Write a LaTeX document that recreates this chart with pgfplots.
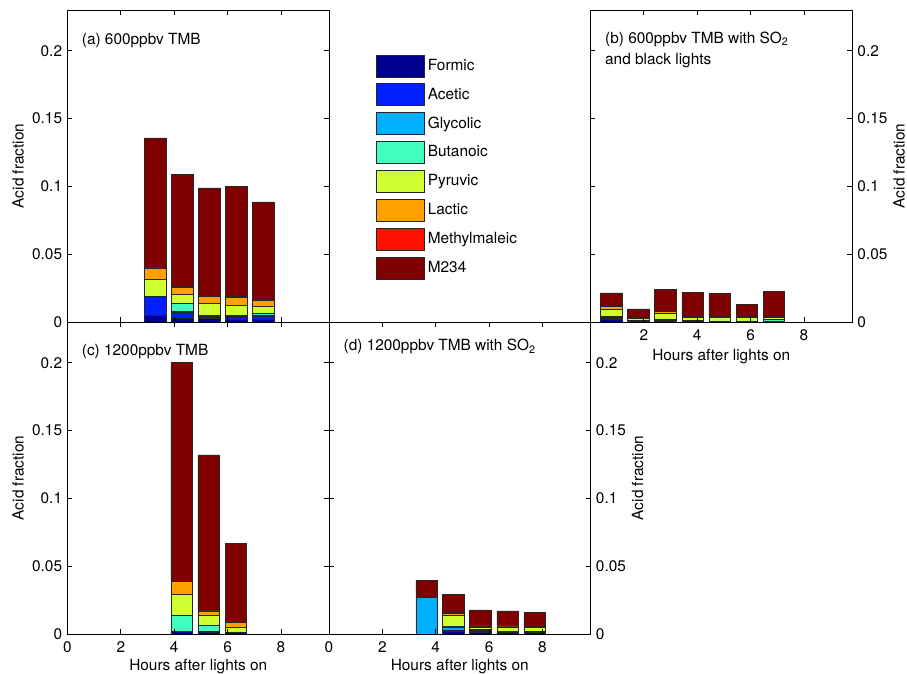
\documentclass[border=0pt]{standalone}
\usepackage{fontspec}
\setmainfont{TeX Gyre Heros}
\usepackage{pgfplots}
\usepackage{pgfplotstable}
\pgfplotsset{compat=1.18}

% jet-style colours for the eight acids
\definecolor{cFormic}{rgb}{0,0,0.5625}
\definecolor{cAcetic}{rgb}{0,0.125,1}
\definecolor{cGlycolic}{rgb}{0,0.6875,1}
\definecolor{cButanoic}{rgb}{0.25,1,0.75}
\definecolor{cPyruvic}{rgb}{0.8125,1,0.1875}
\definecolor{cLactic}{rgb}{1,0.625,0}
\definecolor{cMethyl}{rgb}{1,0.0625,0}
\definecolor{cMtwo}{rgb}{0.5,0,0}

% acid fractions per sample (stack increments)
% x = hours after lights on
\pgfplotstableread{
x    F      A      G      B      P      L      Me     M
3.29 0.0049 0.0138 0      0      0.0125 0.0083 0.0004 0.0958
4.30 0.0030 0.0039 0.0012 0.0057 0.0066 0.0054 0.0003 0.0829
5.31 0.0025 0.0008 0.0011 0.0003 0.0088 0.0052 0.0002 0.0799
6.32 0.0020 0.0017 0.0007 0.0003 0.0073 0.0064 0.0002 0.0814
7.33 0.0022 0.0020 0.0010 0.0009 0.0055 0.0041 0.0002 0.0726
}\tabA

\pgfplotstableread{
x    F      A      G      B      P      L      Me     M
0.78 0.0022 0.0008 0.0005 0.0009 0.0052 0.0019 0.0005 0.0094
1.80 0.0008 0      0      0.0005 0.0012 0.0009 0      0.0062
2.81 0.0005 0      0.0005 0.0007 0.0049 0.0013 0.0002 0.0159
3.83 0.0005 0      0      0.0005 0.0024 0.0008 0      0.0175
4.84 0.0005 0      0      0.0003 0.0026 0.0006 0      0.0170
5.86 0.0005 0      0      0.0003 0.0026 0.0006 0      0.0088
6.87 0.0005 0      0.0003 0.0009 0.0017 0.0008 0      0.0186
}\tabB

\pgfplotstableread{
x    F      A      G      B      P      L      Me     M
4.28 0.0017 0.0003 0      0.0120 0.0150 0.0098 0.0002 0.1610
5.29 0.0015 0.0003 0.0003 0.0045 0.0069 0.0035 0.0002 0.1148
6.31 0.0012 0      0      0.0003 0.0034 0.0035 0.0002 0.0583
}\tabC

\pgfplotstableread{
x    F      A      G      B      P      L      Me     M
3.66 0      0      0.0268 0      0      0      0      0.0125
4.67 0.0022 0.0008 0.0022 0.0003 0.0080 0.0015 0.0007 0.0133
5.68 0.0012 0.0004 0.0009 0.0007 0.0015 0.0012 0      0.0118
6.70 0.0010 0      0.0005 0.0005 0.0032 0.0007 0      0.0111
7.71 0.0010 0      0.0003 0.0003 0.0031 0.0007 0      0.0103
}\tabD

\newcommand{\acidbars}[1]{%
  \addplot[fill=cFormic]   table[x=x,y=F]{#1};
  \addplot[fill=cAcetic]   table[x=x,y=A]{#1};
  \addplot[fill=cGlycolic] table[x=x,y=G]{#1};
  \addplot[fill=cButanoic] table[x=x,y=B]{#1};
  \addplot[fill=cPyruvic]  table[x=x,y=P]{#1};
  \addplot[fill=cLactic]   table[x=x,y=L]{#1};
  \addplot[fill=cMethyl]   table[x=x,y=Me]{#1};
  \addplot[fill=cMtwo]     table[x=x,y=M]{#1};
}

\tikzset{tag/.style={anchor=base west, font=\fontsize{10}{12}\selectfont, inner sep=0pt}}

\pgfplotsset{
  legimg/.style={legend image code/.code={%
    \draw[##1] (0pt,-7.15pt) rectangle (31pt,7.15pt);}},
  acid/.style={
    scale only axis, width=170pt, height=202.8pt,
    xmin=0, xmax=9.8, ymin=0, ymax=0.23,
    ybar stacked, bar width=0.81,
    axis on top,
    xtick={0,2,4,6,8}, xticklabels={0,2,4,6,8},
    ytick={0,0.05,0.1,0.15,0.2}, yticklabels={0,0.05,0.1,0.15,0.2},
    tick align=inside, major tick length=3pt,
    every tick/.style={black, line width=0.5pt},
    axis line style={line width=0.6pt},
    tick label style={font=\fontsize{10}{12}\selectfont},
    label style={font=\fontsize{10}{12}\selectfont},
    /pgf/number format/assume math mode=true,
    xticklabel shift=1.5pt,
    ylabel near ticks,
    every axis plot/.append style={draw=black!85, line width=0.45pt},
    anchor=south west,
  },
}

\begin{document}
\begin{tikzpicture}
\useasboundingbox (0,0) rectangle (589.55pt,437.45pt);

% (a)
\begin{axis}[acid, at={(43.875pt,228.15pt)}, xticklabels={},
  ylabel={Acid fraction}, ylabel shift=-1.5pt,
  every axis plot post/.append style={legimg},
  legend style={at={(1.18,0.858)}, anchor=north west, draw=none, fill=none,
    inner sep=0pt, row sep=4pt, font=\fontsize{10}{12}\selectfont,
    cells={anchor=west}},
  legend cell align=left]
\acidbars{\tabA}
\legend{Formic,Acetic,Glycolic,Butanoic,Pyruvic,Lactic,Methylmaleic,M234}
\node[tag] at (rel axis cs:0.054,0.888) {(a) 600ppbv TMB};
\end{axis}

% (b)
\begin{axis}[acid, at={(383.825pt,228.15pt)}, xticklabels={,2,4,6,8},
  yticklabel pos=right, ylabel={Acid fraction}, ylabel shift=-3pt,
  xlabel={Hours after lights on}, xlabel shift=-1.5pt]
\acidbars{\tabB}
\node[tag] at (rel axis cs:0.055,0.893) {(b) 600ppbv TMB with SO\textsubscript{2}};
\node[tag] at (rel axis cs:0.055,0.824) {and black lights};
\end{axis}

% (c)
\begin{axis}[acid, at={(43.875pt,25.35pt)},
  ylabel={Acid fraction}, ylabel shift=-1.5pt,
  xlabel={Hours after lights on}, xlabel shift=-3pt]
\acidbars{\tabC}
\node[tag] at (rel axis cs:0.054,0.892) {(c) 1200ppbv TMB};
\end{axis}

% (d)
\begin{axis}[acid, at={(213.85pt,25.35pt)},
  yticklabel pos=right, ylabel={Acid fraction}, ylabel shift=-3pt,
  xlabel={Hours after lights on}, xlabel shift=-3pt]
\acidbars{\tabD}
\node[tag] at (rel axis cs:0.055,0.908) {(d) 1200ppbv TMB with SO\textsubscript{2}};
\end{axis}
\end{tikzpicture}
\end{document}
